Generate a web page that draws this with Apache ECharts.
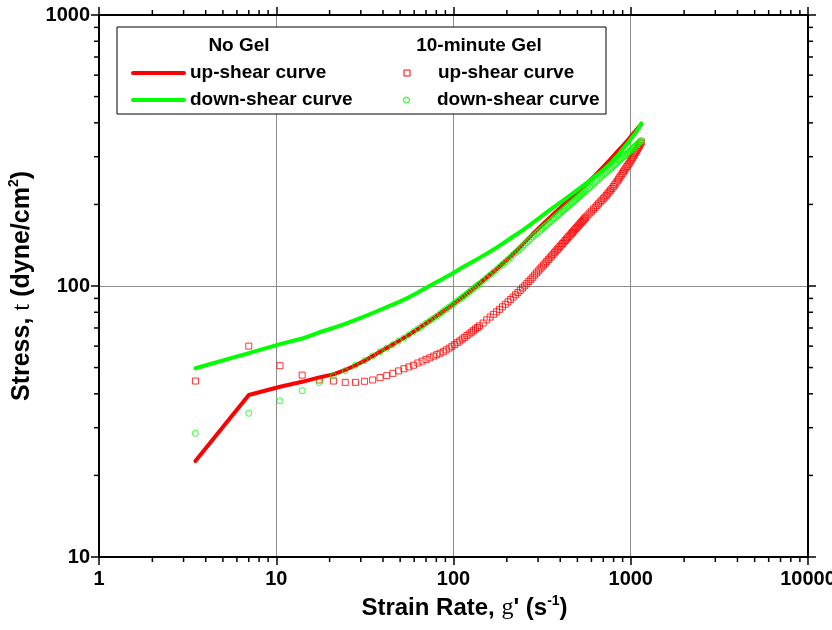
<!DOCTYPE html>
<html><head><meta charset="utf-8">
<script src="https://cdn.jsdelivr.net/npm/echarts@6/dist/echarts.min.js"></script>
<style>html,body{margin:0;padding:0;background:#fff}#c{width:832px;height:630px}</style>
</head><body><div id="c"></div>
<script>
// ---- data ----
const xTicks = [1, 10, 100, 1000, 10000];
const yTicks = [10, 100, 1000];
// No Gel (lines)
const noGelX = [3.5,7,10.5,14,17.5,21,24.5,28,31.5,35,42,49,56,63,70,84,98,112,126,140,175,210,245,280,350,420,490,560,630,700,770,840,910,980,1050,1120,1148];
const noGelUp = [22.6,39.6,42.5,44.3,46.0,47.2,49.0,51.0,53.0,55.2,59.0,62.6,66.0,69.5,72.8,79.1,85.0,90.8,96.4,102.0,115.3,128.5,142,155.5,179,200,219,238,256,275,294,313,331,350,370,388,396];
const noGelDown = [49.7,56.5,61,64,67.5,70,72.5,75,77.3,79.5,83.5,87.2,90.8,94.6,98.5,105,111,117,122,127,138.5,150,160.5,171,191,208,224,239,254,268,284,302,322,342,363,386,398];
// 10-minute Gel (markers)
const gelX = [3.5,7,10.5,14,17.5,21,24.5,28,31.5,35,38.5,42,45.5,49,52.5,56,59.5,63,66.5,70,73.5,77,80.5,84,87.5,91,94.5,98,101.5,105,108.5,112,115.5,119,122.5,126,129.5,133,136.5,140,
 147,154,161,168,175,182,189,196,203,210,217,224,231,238,245,252,259,266,273,280,
 287,294,301,308,315,322,329,336,343,350,357,364,371,378,385,392,399,406,413,420,427,434,441,448,455,462,469,476,483,490,497,504,511,518,525,532,539,546,553,560,
 574,588,602,616,630,644,658,672,686,700,714,728,742,756,770,784,798,812,826,840,854,868,882,896,910,924,938,952,966,980,994,1008,1022,1036,1050,1064,1078,1092,1106,1120,1134,1148];
const gelUp = [44.6,60,50.8,46.9,45,44.6,44.1,44.1,44.5,45,45.9,46.7,47.6,48.6,49.5,50.3,51,52,52.8,53.6,54.3,55.1,55.8,56.5,57.2,58.1,59,59.9,60.8,61.8,62.7,63.7,64.6,65.6,66.5,67.5,68.4,69.4,70.3,71.3,
 73,75,76.8,78.6,80.3,82,83.8,85.6,87.4,89.2,91,92.8,94.6,96.4,98.3,100.1,102,103.9,105.8,107.7,
 109.7,111.7,113.65,115.6,117.5,119.4,121.35,123.3,125.15,127.0,128.9,130.8,132.65,134.5,136.3,138.1,139.9,141.7,143.5,145.3,147.1,148.9,150.7,152.5,154.25,156.0,157.7,159.4,161.15,162.9,164.6,166.3,168.0,169.7,171.4,173.1,174.8,176.5,178.15,179.8,
 182.9,186,189,192,195,198,201,204,207,210,213,216,219.2,222.5,225.7,229,232.7,236.5,240.2,244,248,252,256,260,264,268,272,276,280,284,288.5,293,297.5,302,306.5,311,315.5,320,325,330,335,340];
const gelDown = [28.6,33.9,37.7,41.1,44.0,46.7,48.7,51.0,53.0,55.2,57.2,59.0,60.8,62.6,64.3,66.0,67.9,69.5,71.2,72.8,74.4,75.9,77.4,79.1,80.6,82.1,83.6,85.0,86.5,88.0,89.4,90.8,92.2,93.7,95.0,96.4,97.8,99.2,100.6,101.9,
 104.6,107.3,109.9,112.5,115.1,117.6,120.2,122.7,125.2,127.6,130.1,132.6,135.0,137.5,139.8,142.2,144.6,147.0,149.4,151.7,
 153.85,156.0,158.1,160.2,162.25,164.3,166.3,168.3,170.3,172.3,174.25,176.2,178.1,180.0,181.9,183.8,185.65,187.5,189.3,191.1,192.95,194.8,196.55,198.3,200.05,201.8,203.55,205.3,207.0,208.7,210.4,212.1,213.75,215.4,217.1,218.8,220.4,222.0,223.6,225.2,
 228.5,231.8,235.0,238.2,241.4,244.6,247.7,250.8,253.85,256.9,259.9,262.9,265.85,268.8,271.75,274.7,277.55,280.4,283.25,286.1,288.9,291.7,294.45,297.2,299.95,302.7,305.35,308.0,310.65,313.3,315.95,318.6,321.15,323.7,326.3,328.9,331.45,334.0,336.5,339.0,341.5,344.0];
const xMinor = [2,3,4,5,6,7,8,9,20,30,40,50,60,70,80,90,200,300,400,500,600,700,800,900,2000,3000,4000,5000,6000,7000,8000,9000];
const yMinor = [20,30,40,50,60,70,80,90,200,300,400,500,600,700,800,900];

const zip = (xs, ys) => xs.map((x, i) => [x, ys[i]]);
const FONT = '"Liberation Sans", Arial, sans-serif';
const RED = '#ff0000', GREEN = '#00ff00';

const chart = echarts.init(document.getElementById('c'), null, {renderer: 'canvas'});
const axisLine = {show: true, lineStyle: {color: '#000', width: 2}};
const lbl = {fontFamily: FONT, fontWeight: 'bold', fontSize: 20, color: '#000'};
const mkRich = (fs) => ({
  a: {fontFamily: FONT, fontWeight: 'bold', fontSize: fs, color: '#000', lineHeight: fs + 4},
  g: {fontFamily: '"Liberation Serif", "Times New Roman", serif', fontSize: fs, color: '#000', lineHeight: fs + 4},
  sup: {fontFamily: FONT, fontWeight: 'bold', fontSize: Math.round(fs * 0.58), color: '#000', verticalAlign: 'top', lineHeight: fs + 4}
});
chart.setOption({
  animation: false,
  backgroundColor: '#fff',
  grid: {left: 99, right: 24, top: 15, bottom: 73, containLabel: false, outerBoundsMode: 'none'},
  xAxis: [{
    type: 'log', logBase: 10, min: xTicks[0], max: xTicks[xTicks.length - 1],
    axisLine, axisTick: {show: true, length: 8, lineStyle: {color: '#000', width: 1.5}},
    axisLabel: Object.assign({margin: 12, formatter: v => String(Math.round(v))}, lbl),
    splitLine: {show: true, lineStyle: {color: '#8c8c8c', width: 1}},
    name: '{a|Strain Rate, }{g|g}{a|\' (s}{sup|-1}{a|)}', nameLocation: 'middle', nameGap: 36,
    nameTextStyle: {rich: mkRich(24), padding: [0, 0, 0, 22]}
  }, {
    type: 'log', logBase: 10, min: xTicks[0], max: xTicks[xTicks.length - 1], position: 'top',
    axisLine, axisTick: {show: true, length: 8, lineStyle: {color: '#000', width: 1.5}},
    axisLabel: {show: false}, splitLine: {show: false}
  }],
  yAxis: [{
    type: 'log', logBase: 10, min: yTicks[0], max: yTicks[yTicks.length - 1],
    axisLine, axisTick: {show: true, length: 8, lineStyle: {color: '#000', width: 1.5}},
    axisLabel: Object.assign({margin: 9, formatter: v => String(Math.round(v))}, lbl),
    splitLine: {show: true, lineStyle: {color: '#8c8c8c', width: 1}},
    name: '{a|Stress, }{g|t}{a| (dyne/cm}{sup|2}{a|)}', nameLocation: 'middle', nameGap: 52,
    nameTextStyle: {rich: mkRich(25)}
  }, {
    type: 'log', logBase: 10, min: yTicks[0], max: yTicks[yTicks.length - 1], position: 'right',
    axisLine, axisTick: {show: true, length: 8, lineStyle: {color: '#000', width: 1.5}},
    axisLabel: {show: false}, splitLine: {show: false}
  }],
  series: [
    {name: 'No Gel up-shear curve', type: 'line', data: zip(noGelX, noGelUp), showSymbol: false, symbol: 'none',
     lineStyle: {color: RED, width: 4, cap: 'round', join: 'round'}, z: 2},
    {name: 'No Gel down-shear curve', type: 'line', data: zip(noGelX, noGelDown), showSymbol: false, symbol: 'none',
     lineStyle: {color: GREEN, width: 4, cap: 'round', join: 'round'}, z: 3},
    {name: '10-minute Gel up-shear curve', type: 'scatter', data: zip(gelX, gelUp), symbol: 'rect', symbolSize: 6,
     itemStyle: {color: 'rgba(0,0,0,0)', borderColor: RED, borderWidth: 1}, z: 4},
    {name: '10-minute Gel down-shear curve', type: 'scatter', data: zip(gelX, gelDown), symbol: 'circle', symbolSize: 6,
     itemStyle: {color: 'rgba(0,0,0,0)', borderColor: GREEN, borderWidth: 1}, z: 5}
  ]
});

// minor ticks and legend
const px = v => chart.convertToPixel({xAxisIndex: 0}, v);
const py = v => chart.convertToPixel({yAxisIndex: 0}, v);
const L = px(xTicks[0]), R = px(xTicks[xTicks.length - 1]);
const B = py(yTicks[0]), T = py(yTicks[yTicks.length - 1]);
const ls = {stroke: '#000', lineWidth: 1.5};
const g = [];
xMinor.forEach(v => {
  const x = px(v);
  g.push({type: 'line', shape: {x1: x, y1: B, x2: x, y2: B + 5}, style: ls, silent: true});
  g.push({type: 'line', shape: {x1: x, y1: T, x2: x, y2: T - 5}, style: ls, silent: true});
});
yMinor.forEach(v => {
  const y = py(v);
  g.push({type: 'line', shape: {x1: L, y1: y, x2: L - 5, y2: y}, style: ls, silent: true});
  g.push({type: 'line', shape: {x1: R, y1: y, x2: R + 5, y2: y}, style: ls, silent: true});
});
const tf = {fontFamily: FONT, fontWeight: 'bold', fontSize: 19, fill: '#000', textVerticalAlign: 'middle'};
const txt = (text, x, y, align) => ({type: 'text', style: Object.assign({text, x, y, textAlign: align}, tf), z: 11});
g.push({type: 'rect', shape: {x: 117, y: 27, width: 489, height: 87}, style: {fill: '#fff', stroke: '#000', lineWidth: 1}, z: 10});
g.push(txt('No Gel', 239, 46, 'center'));
g.push(txt('10-minute Gel', 479, 46, 'center'));
g.push({type: 'line', shape: {x1: 133, y1: 73, x2: 184, y2: 73}, style: {stroke: RED, lineWidth: 4, lineCap: 'round'}, z: 11});
g.push({type: 'line', shape: {x1: 133, y1: 100, x2: 184, y2: 100}, style: {stroke: GREEN, lineWidth: 4, lineCap: 'round'}, z: 11});
g.push(txt('up-shear curve', 190, 73, 'left'));
g.push(txt('down-shear curve', 190, 100, 'left'));
g.push({type: 'rect', shape: {x: 404, y: 70, width: 6, height: 6}, style: {fill: 'none', stroke: RED, lineWidth: 1}, z: 11});
g.push({type: 'circle', shape: {cx: 406.5, cy: 100, r: 3}, style: {fill: 'none', stroke: GREEN, lineWidth: 1}, z: 11});
g.push(txt('up-shear curve', 438, 73, 'left'));
g.push(txt('down-shear curve', 437, 100, 'left'));
chart.setOption({graphic: g});
</script>
</body></html>
